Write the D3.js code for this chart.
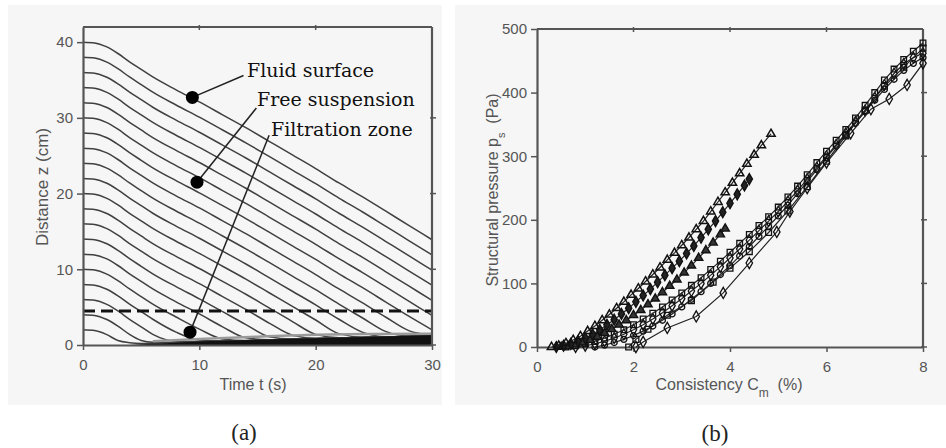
<!DOCTYPE html>
<html><head><meta charset="utf-8">
<script src="https://cdn.jsdelivr.net/npm/d3@7"></script>
<style>body{margin:0;background:#fff}svg{display:block}</style>
</head><body>
<svg id="c" width="946" height="448"></svg>
<script>
// ---------- Panel (a) data ----------
const timeT = [0,1,2,3,4,5,6,8,10,12,14,16,18,20,22,24,26,28,30];
const distanceLines = [
 [40,39.9,39.4,38.5,37.4,36.4,35.4,33.7,32.1,30.4,28.7,26.9,25.1,23.3,21.4,19.6,17.7,15.8,13.9],
 [38,37.9,37.4,36.5,35.4,34.4,33.4,31.7,30.1,28.4,26.7,24.9,23.1,21.3,19.4,17.6,15.7,13.8,11.9],
 [36,35.9,35.4,34.5,33.4,32.4,31.4,29.7,28.1,26.4,24.7,22.9,21.1,19.3,17.4,15.6,13.7,11.8,9.9],
 [34,33.9,33.4,32.5,31.4,30.4,29.4,27.7,26.1,24.4,22.7,20.9,19.1,17.3,15.4,13.6,11.7,9.8,7.9],
 [32,31.9,31.4,30.5,29.4,28.4,27.4,25.7,24.1,22.4,20.7,18.9,17.1,15.3,13.4,11.6,9.7,7.8,5.9],
 [30,29.9,29.4,28.5,27.4,26.4,25.4,23.7,22.1,20.4,18.7,16.9,15.1,13.3,11.4,9.6,7.7,5.8,3.9],
 [28,27.9,27.4,26.5,25.4,24.4,23.4,21.7,20.1,18.4,16.7,14.9,13.1,11.3,9.4,7.6,5.7,3.8,2.0],
 [26,25.9,25.4,24.5,23.4,22.4,21.4,19.7,18.1,16.4,14.7,12.9,11.1,9.3,7.4,5.6,3.7,1.9,1.3],
 [24,23.9,23.4,22.5,21.4,20.4,19.4,17.7,16.1,14.4,12.7,10.9,9.1,7.3,5.4,3.6,1.8,1.2,1.25],
 [22,21.9,21.4,20.5,19.4,18.4,17.4,15.7,14.1,12.4,10.7,8.9,7.1,5.3,3.4,1.7,1.1,1.15,1.22],
 [20,19.9,19.4,18.5,17.4,16.4,15.4,13.7,12.1,10.4,8.7,6.9,5.1,3.3,1.5,1.05,1.05,1.12,1.2],
 [18,17.9,17.4,16.5,15.4,14.4,13.4,11.7,10.1,8.4,6.7,4.9,3.1,1.4,0.95,0.98,1.03,1.1,1.2],
 [16,15.9,15.4,14.5,13.4,12.4,11.4,9.7,8.1,6.4,4.7,2.9,1.3,0.9,0.9,0.97,1.02,1.1,1.2],
 [14,13.9,13.4,12.5,11.4,10.4,9.4,7.7,6.1,4.4,2.7,1.1,0.8,0.85,0.9,0.96,1.02,1.1,1.2],
 [12,11.9,11.4,10.5,9.4,8.4,7.4,5.7,4.1,2.4,0.95,0.7,0.76,0.84,0.89,0.96,1.02,1.1,1.2],
 [10,9.9,9.4,8.5,7.4,6.4,5.4,3.7,2.1,0.8,0.6,0.66,0.74,0.83,0.88,0.96,1.02,1.1,1.2],
 [8,7.9,7.4,6.5,5.4,4.4,3.4,1.7,0.65,0.5,0.56,0.64,0.73,0.82,0.88,0.96,1.02,1.1,1.2],
 [6,5.9,5.4,4.5,3.4,2.4,1.4,0.5,0.45,0.5,0.56,0.64,0.72,0.82,0.88,0.96,1.02,1.1,1.2],
 [4,3.9,3.4,2.5,1.4,0.6,0.37,0.35,0.42,0.5,0.56,0.64,0.72,0.82,0.88,0.96,1.02,1.1,1.2],
 [2,1.9,1.4,0.6,0.3,0.2,0.22,0.3,0.4,0.5,0.56,0.64,0.72,0.82,0.88,0.96,1.02,1.1,1.2]
];
const cakeT = [4,6,8,10,12,15,20,25,30];
const cakeZ = [0,0.15,0.3,0.45,0.55,0.7,0.9,1.1,1.3];
const grayT = [6,10,15,20,25,30];
const grayZ = [0.5,0.8,1.1,1.35,1.45,1.5];
const filtrationLevel = 4.5;
const annotLabels = ["Fluid surface","Free suspension","Filtration zone"];
const annotDotT = [9.4, 9.8, 9.2];
const annotDotZ = [32.7, 21.5, 1.7];
const annotTextT = [14.1, 14.96, 16.16];
const annotTextZ = [35.4, 31.6, 27.6];
const annotLineT = [13.8, 14.9, 16.0];
const annotLineZ = [35.6, 31.3, 27.7];
const tTicks = [0,10,20,30];
const zTicks = [0,10,20,30,40];

// ---------- Panel (b) data ----------
const s1C = [0.30,0.45,0.60,0.75,0.90,1.05,1.20,1.35,1.50,1.65,1.80,1.95,2.10,2.25,2.40,2.55,2.70,2.85,3.00,3.15,3.30,3.45,3.60,3.75,3.90,4.05,4.20,4.35,4.50,4.65,4.85];
const s1P = [0,2,6,11,17,25,33,42,51,61,71,82,92,103,114,125,137,148,160,172,185,198,213,228,243,258,273,288,302,317,335];
const s2C = [0.40,0.55,0.70,0.85,1.00,1.15,1.30,1.45,1.60,1.75,1.90,2.05,2.20,2.35,2.50,2.65,2.80,2.95,3.10,3.25,3.40,3.55,3.70,3.85,4.00,4.15,4.30,4.40];
const s2P = [0,2,5,9,14,20,27,35,43,52,61,71,81,91,102,113,124,135,147,159,172,185,198,212,226,240,254,264];
const s3C = [0.50,0.65,0.80,0.95,1.10,1.25,1.40,1.55,1.70,1.85,2.00,2.15,2.30,2.45,2.60,2.75,2.90,3.05,3.20,3.35,3.50,3.65,3.80,3.90];
const s3P = [0,1,4,7,11,16,22,28,35,42,50,58,67,76,86,96,106,117,128,140,152,164,177,186];
const m1C = [0.6,0.8,1.0,1.2,1.4,1.6,1.8,2.0,2.2,2.4,2.6,2.8,3.0,3.2,3.4,3.6,3.8,4.0,4.2,4.4,4.6,4.8,5.0,5.2,5.4,5.6,5.8,6.0,6.2,6.4,6.6,6.8,7.0,7.2,7.4,7.6,7.8,8.0];
const m1P = [0,2,5,9,14,20,27,35,44,53,63,74,85,97,109,122,135,149,163,177,191,205,220,236,253,271,290,308,325,342,360,380,400,420,437,452,465,478];
const m2C = [0.8,1.0,1.2,1.4,1.6,1.8,2.0,2.2,2.4,2.6,2.8,3.0,3.2,3.4,3.6,3.8,4.0,4.2,4.4,4.6,4.8,5.0,5.2,5.4,5.6,5.8,6.0,6.2,6.4,6.6,6.8,7.0,7.2,7.4,7.6,7.8,8.0];
const m2P = [0,2,5,9,14,20,27,35,44,54,65,76,88,100,113,126,140,154,168,183,198,213,229,246,264,282,300,318,336,354,372,392,412,430,445,455,462];
const m3C = [1.2,1.4,1.6,1.8,2.0,2.2,2.4,2.6,2.8,3.0,3.2,3.4,3.6,3.8,4.0,4.2,4.4,4.6,4.8,5.0,5.2,5.4,5.6,5.8,6.0,6.2,6.4,6.6,6.8,7.0,7.2,7.4,7.6,7.8,8.0];
const m3P = [0,3,7,12,18,25,33,42,52,63,75,87,100,114,128,143,158,174,190,206,223,241,260,279,298,316,334,352,370,388,405,421,435,446,455];
const aC = [1.90,2.05,2.3,2.7,3.2,3.65,4.0,4.4,4.8,5.2,5.6,6.0,6.4,6.8,7.2,7.6,8.0];
const aP = [0,12,28,50,73,102,124,150,180,214,252,292,332,372,410,440,470];
const bC = [2.05,2.2,2.7,3.3,3.86,4.4,4.97,5.24,5.6,6.0,6.5,6.92,7.3,7.67,8.0];
const bP = [0,8,30,48,85,132,181,213,250,290,336,374,390,412,446];
const cTicks = [0,2,4,6,8];
const pTicks = [0,100,200,300,400,500];

// ---------- drawing ----------
const svg = d3.select("#c");
const axisCol = "#555", textCol = "#555";
const sans = "'Liberation Sans', Arial, sans-serif";
const serif = "'Liberation Serif', 'Times New Roman', serif";
const annSerif = "'DejaVu Serif', serif";

svg.append("rect").attr("x",8).attr("y",5).attr("width",434).attr("height",400).attr("fill","#f6f6f6");
svg.append("rect").attr("x",455).attr("y",5).attr("width",491).attr("height",400).attr("fill","#f6f6f6");

function frame(g, x, y, xt, yt) {
  const [x0,x1] = x.range(), [y0,y1] = y.range();
  const ax = g.append("g").attr("transform",`translate(${x0},0)`)
    .call(d3.axisLeft(y).tickValues(yt).tickSize(6).tickPadding(4).tickSizeOuter(0));
  const bx = g.append("g").attr("transform",`translate(0,${y0})`)
    .call(d3.axisBottom(x).tickValues(xt).tickSize(5).tickPadding(9).tickSizeOuter(0));
  [ax,bx].forEach(a=>{
    a.select(".domain").attr("stroke",axisCol).attr("stroke-width",2.2);
    a.selectAll(".tick line").attr("stroke",axisCol).attr("stroke-width",1.5);
    a.selectAll(".tick text").attr("fill",textCol).style("font-family",sans).style("font-size","15px");
  });
  g.append("line").attr("x1",x0).attr("x2",x1).attr("y1",y1).attr("y2",y1).attr("stroke",axisCol).attr("stroke-width",2.2);
  g.append("line").attr("x1",x1).attr("x2",x1).attr("y1",y0).attr("y2",y1).attr("stroke",axisCol).attr("stroke-width",2.2);
  g.selectAll(null).data(xt.slice(1,-1)).join("line")
    .attr("x1",d=>x(d)).attr("x2",d=>x(d)).attr("y1",y1-2).attr("y2",y1+3).attr("stroke",axisCol).attr("stroke-width",1.5);
  g.selectAll(null).data(yt.slice(0,-1)).join("line")
    .attr("x1",x1-2).attr("x2",x1+4).attr("y1",d=>y(d)).attr("y2",d=>y(d)).attr("stroke",axisCol).attr("stroke-width",1.5);
}

// ----- Panel (a) -----
const xa = d3.scaleLinear().domain([0,30]).range([83,432]);
const ya = d3.scaleLinear().domain([0,42]).range([345,27]);
const ga = svg.append("g");
const lineA = d3.line().x((d,i)=>xa(timeT[i])).y(d=>ya(d)).curve(d3.curveMonotoneX);
ga.selectAll("path.traj").data(distanceLines).join("path").attr("class","traj")
  .attr("d",lineA).attr("fill","none").attr("stroke","#404040").attr("stroke-width",1.5);
ga.append("path").datum(grayZ)
  .attr("d",d3.line().x((d,i)=>xa(grayT[i])).y(d=>ya(d)).curve(d3.curveMonotoneX))
  .attr("fill","none").attr("stroke","#9a9a9a").attr("stroke-width",2.5);
ga.append("path").datum(cakeZ)
  .attr("d",d3.area().x((d,i)=>xa(cakeT[i])).y0(ya(0)).y1(d=>ya(d)).curve(d3.curveMonotoneX))
  .attr("fill","#111");
ga.append("line").attr("x1",xa(0)).attr("x2",xa(30)).attr("y1",ya(filtrationLevel)).attr("y2",ya(filtrationLevel))
  .attr("stroke","#111").attr("stroke-width",3).attr("stroke-dasharray","12,6");
frame(ga, xa, ya, tTicks, zTicks);
annotLabels.forEach((lab,i)=>{
  ga.append("line").attr("x1",xa(annotDotT[i])).attr("y1",ya(annotDotZ[i]))
    .attr("x2",xa(annotLineT[i])).attr("y2",ya(annotLineZ[i])).attr("stroke","#222").attr("stroke-width",1.5);
  ga.append("circle").attr("cx",xa(annotDotT[i])).attr("cy",ya(annotDotZ[i])).attr("r",6.5).attr("fill","#000");
  ga.append("text").attr("x",xa(annotTextT[i])).attr("y",ya(annotTextZ[i])).text(lab)
    .style("font-family",annSerif).style("font-size","19px").attr("fill","#111");
});
ga.append("text").attr("x",253).attr("y",390).attr("text-anchor","middle").text("Time t (s)")
  .style("font-family",sans).style("font-size","16px").attr("fill",textCol);
ga.append("text").attr("transform","translate(48,187) rotate(-90)").attr("text-anchor","middle").text("Distance z (cm)")
  .style("font-family",sans).style("font-size","17px").attr("fill",textCol);
svg.append("text").attr("x",244).attr("y",440).attr("text-anchor","middle").text("(a)")
  .style("font-family",serif).style("font-size","23px").attr("fill","#222");

// ----- Panel (b) -----
const xb = d3.scaleLinear().domain([0,8]).range([537,923]);
const yb = d3.scaleLinear().domain([0,500]).range([347,29]);
const gb = svg.append("g");
const seriesB = [
  {c:m3C,p:m3P,sym:d3.symbolCircle,size:28,fill:"none",sw:1.3},
  {c:m2C,p:m2P,sym:d3.symbolDiamond,size:34,fill:"none",sw:1.3},
  {c:m1C,p:m1P,sym:d3.symbolSquare,size:32,fill:"none",sw:1.3},
  {c:aC,p:aP,sym:d3.symbolSquare,size:34,fill:"none",sw:1.3},
  {c:bC,p:bP,sym:d3.symbolDiamond,size:36,fill:"none",sw:1.3},
  {c:s3C,p:s3P,sym:d3.symbolTriangle,size:30,fill:"#333",sw:1.4},
  {c:s2C,p:s2P,sym:d3.symbolDiamond,size:34,fill:"#222",sw:1.4},
  {c:s1C,p:s1P,sym:d3.symbolTriangle,size:30,fill:"none",sw:1.5}
];
frame(gb, xb, yb, cTicks, pTicks);
seriesB.forEach(s=>{
  const pts = s.c.map((c,i)=>[c,s.p[i]]);
  gb.append("path").datum(pts)
    .attr("d",d3.line().x(d=>xb(d[0])).y(d=>yb(d[1])))
    .attr("fill","none").attr("stroke","#222").attr("stroke-width",1.2);
  gb.selectAll(null).data(pts).join("path")
    .attr("transform",d=>`translate(${xb(d[0])},${yb(d[1])})`)
    .attr("d",d3.symbol().type(s.sym).size(s.size))
    .attr("fill",s.fill).attr("stroke","#111").attr("stroke-width",s.sw);
});
const yt = gb.append("text").attr("transform","translate(498,190) rotate(-90)").attr("text-anchor","middle")
  .style("font-family",sans).style("font-size","16px").attr("fill",textCol).attr("xml:space","preserve");
yt.append("tspan").text("Structural pressure p");
yt.append("tspan").attr("dy",7).style("font-size","11px").text("s");
yt.append("tspan").attr("dy",-7).text("  (Pa)");
const xtl = gb.append("text").attr("x",729).attr("y",390).attr("text-anchor","middle")
  .style("font-family",sans).style("font-size","16px").attr("fill",textCol).attr("xml:space","preserve");
xtl.append("tspan").text("Consistency C");
xtl.append("tspan").attr("dy",7).style("font-size","12px").text("m");
xtl.append("tspan").attr("dy",-7).text("  (%)");
svg.append("text").attr("x",715).attr("y",441).attr("text-anchor","middle").text("(b)")
  .style("font-family",serif).style("font-size","23px").attr("fill","#222");
</script>
</body></html>
